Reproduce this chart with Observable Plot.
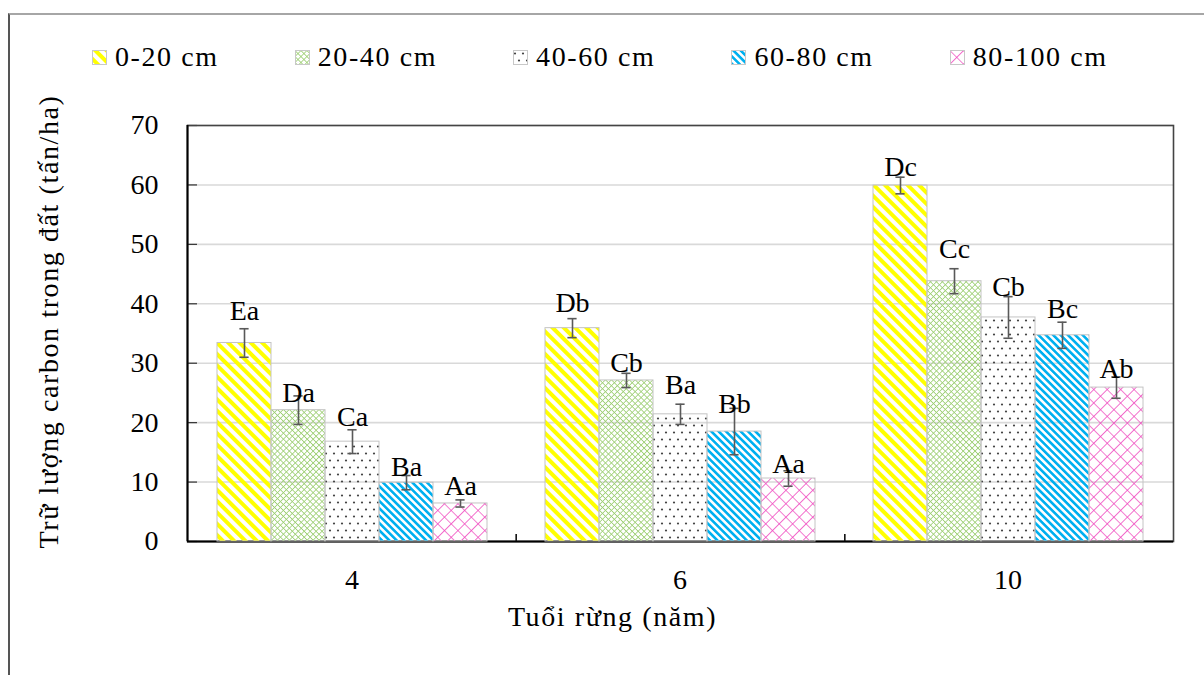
<!DOCTYPE html>
<html><head><meta charset="utf-8">
<script src="https://cdn.jsdelivr.net/npm/d3@7"></script>
<script src="https://cdn.jsdelivr.net/npm/@observablehq/plot@0.6"></script>
<style>
body{margin:0;background:#fff;font-family:"Liberation Serif","Times New Roman",serif;}
#wrap{position:relative;width:1204px;height:675px;overflow:hidden;background:#fff;}
#border{position:absolute;left:8px;top:13px;width:1300px;height:800px;border-left:2px solid #555;border-top:2px solid #a6a6a6;}
#legend{position:absolute;left:92px;top:39px;height:36px;display:flex;align-items:center;font-size:28px;letter-spacing:1.6px;color:#000;white-space:nowrap;}
.item{display:flex;align-items:center;margin-right:76px;}
.item svg{margin-right:8px;}
#plots{position:absolute;left:0;top:100px;width:1204px;height:575px;}
#plots > svg{position:absolute;left:0;top:0;}
</style>
</head><body>
<svg width="0" height="0" style="position:absolute">
  <defs>
    <pattern id="p0" width="8" height="8" patternUnits="userSpaceOnUse" patternTransform="rotate(-45)">
      <rect width="4" height="8" fill="#FFFF00"/>
    </pattern>
    <pattern id="p1" width="4.2" height="4.2" patternUnits="userSpaceOnUse" patternTransform="rotate(45)">
      <path d="M0,0H4.2M0,0V4.2" stroke="#9DCF74" stroke-width="1.6" fill="none"/>
    </pattern>
    <pattern id="p2" width="8" height="14" patternUnits="userSpaceOnUse">
      <circle cx="2" cy="3.5" r="1.1" fill="#444"/>
      <circle cx="6" cy="10.5" r="1.1" fill="#444"/>
    </pattern>
    <pattern id="p3" width="5.2" height="5.2" patternUnits="userSpaceOnUse" patternTransform="rotate(-45)">
      <rect width="2.6" height="5.2" fill="#00B0F0"/>
    </pattern>
    <pattern id="p4" width="9.5" height="9.5" patternUnits="userSpaceOnUse" patternTransform="rotate(45)">
      <path d="M0,0H9.5M0,0V9.5" stroke="#F04CC0" stroke-width="1.6" fill="none"/>
    </pattern>
  </defs>
</svg>
<div id="wrap">
  <div id="border"></div>
  <div id="legend"></div>
  <div id="plots"></div>
</div>
<script>
// ---- data ----
const groups = ["4", "6", "10"];
const series = ["0-20 cm", "20-40 cm", "40-60 cm", "60-80 cm", "80-100 cm"];
// means per series, in group order 4, 6, 10
const mean0_20   = [33.4, 35.9, 59.9];
const mean20_40  = [22.1, 27.1, 43.8];
const mean40_60  = [16.8, 21.4, 37.7];
const mean60_80  = [9.9, 18.5, 34.7];
const mean80_100 = [6.4, 10.6, 25.9];
// error (±) per series
const err0_20   = [2.4, 1.6, 1.4];
const err20_40  = [2.4, 1.2, 2.1];
const err40_60  = [2.0, 1.7, 3.5];
const err60_80  = [1.2, 3.9, 2.2];
const err80_100 = [0.6, 1.3, 1.8];
// significance letters
const let0_20   = ["Ea", "Db", "Dc"];
const let20_40  = ["Da", "Cb", "Cc"];
const let40_60  = ["Ca", "Ba", "Cb"];
const let60_80  = ["Ba", "Bb", "Bc"];
const let80_100 = ["Aa", "Aa", "Ab"];
// letter label heights (data units)
const lab0_20   = [38.7, 40.1, 63.0];
const lab20_40  = [24.9, 30.0, 49.2];
const lab40_60  = [21.0, 26.3, 42.9];
const lab60_80  = [12.6, 23.2, 39.1];
const lab80_100 = [9.3, 13.1, 29.0];
const yTicks = [0, 10, 20, 30, 40, 50, 60, 70];
const xTitle = "Tuổi rừng (năm)";
const yTitle = "Trữ lượng carbon trong đất (tấn/ha)";

const means = [mean0_20, mean20_40, mean40_60, mean60_80, mean80_100];
const errs = [err0_20, err20_40, err40_60, err60_80, err80_100];
const lets = [let0_20, let20_40, let40_60, let60_80, let80_100];
const labs = [lab0_20, lab20_40, lab40_60, lab60_80, lab80_100];
const patterns = series.map((s, i) => `url(#p${i})`);

const rows = [];
groups.forEach((g, gi) => series.forEach((s, si) => rows.push({
  group: g, series: s, value: means[si][gi], err: errs[si][gi], letter: lets[si][gi], ly: labs[si][gi]
})));

// ---- legend ----
const legend = d3.select("#legend");
series.forEach((s, i) => {
  const it = legend.append("div").attr("class", "item");
  const sw = it.append("svg").attr("width", 15).attr("height", 15);
  sw.append("rect").attr("x", 0.5).attr("y", 0.5).attr("width", 14).attr("height", 14)
    .attr("fill", patterns[i]).attr("stroke", "#c8c8c8");
  it.append("span").text(s);
});

// ---- layout ----
const W = 1204, H = 575, mL = 187, mR = 31, mT = 25, mB = 134;
const font = {fontFamily: "'Liberation Serif', 'Times New Roman', serif", fontSize: "28px", color: "#000", background: "transparent", overflow: "visible"};

const bg = Plot.plot({
  width: W, height: H, marginLeft: mL, marginRight: mR, marginTop: mT, marginBottom: mB,
  style: font,
  x: {domain: [0, groups.length], axis: null},
  y: {domain: [0, 70], ticks: yTicks, tickSize: 0, tickPadding: 29, label: null},
  marks: [
    Plot.gridY(yTicks, {stroke: "#d9d9d9", strokeOpacity: 1, strokeWidth: 1.6}),
    Plot.ruleY(yTicks, {x1: 0, x2: 0, insetRight: -10, stroke: "#333", strokeWidth: 1.2}),
    Plot.ruleX(d3.range(1, groups.length), {y1: 0, y2: 0, insetTop: -7, stroke: "#000", strokeWidth: 1.5}),
    Plot.frame({stroke: "#444", strokeWidth: 1.6}),
    Plot.ruleX([0], {stroke: "#000", strokeWidth: 2}),
    Plot.ruleY([0], {stroke: "#000", strokeWidth: 2}),
    Plot.text([yTitle], {frameAnchor: "left", textAnchor: "middle", lineAnchor: "middle", rotate: -90, dx: -138, dy: -12, fontSize: 28}),
    Plot.text([xTitle], {frameAnchor: "bottom", textAnchor: "middle", lineAnchor: "middle", dx: -68, dy: 76, fontSize: 28})
  ]
});

const fg = Plot.plot({
  width: W, height: H, marginLeft: mL, marginRight: mR, marginTop: mT, marginBottom: mB,
  style: font,
  facet: {data: rows, x: "group"},
  fx: {domain: groups, paddingInner: 0.167, paddingOuter: 0.083, axis: "bottom", tickSize: 0, tickPadding: 28, label: null},
  x: {domain: series, padding: 0, axis: null},
  y: {domain: [0, 70], axis: null},
  color: {domain: series, range: patterns},
  marks: [
    Plot.barY(rows, {x: "series", y: "value", fill: "series", stroke: "#c4c4c4", strokeWidth: 1}),
    Plot.ruleX(rows, {x: "series", y1: d => d.value - d.err, y2: d => d.value + d.err, stroke: "#595959", strokeWidth: 1.6}),
    Plot.tickY(rows, {x: "series", y: d => d.value + d.err, inset: 22.4, stroke: "#595959", strokeWidth: 1.6}),
    Plot.tickY(rows, {x: "series", y: d => d.value - d.err, inset: 22.4, stroke: "#595959", strokeWidth: 1.6}),
    Plot.text(rows, {x: "series", y: "ly", text: "letter", fontSize: 28, fill: "#000"})
  ]
});

d3.select(bg).selectAll("text").filter(function() { const t = this.textContent; return t === xTitle || t === yTitle; })
  .style("letter-spacing", "1.6px");

document.getElementById("plots").append(bg, fg);
</script>
</body></html>
